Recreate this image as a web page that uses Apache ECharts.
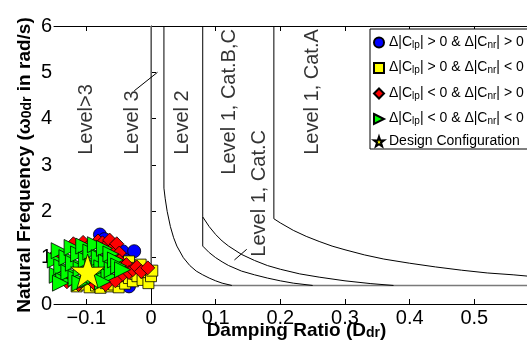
<!DOCTYPE html>
<html>
<head>
<meta charset="utf-8">
<script src="https://cdn.jsdelivr.net/npm/echarts@6/dist/echarts.min.js"></script>
<style>
  html, body { margin: 0; padding: 0; background: #fff; }
  #chart { width: 527px; height: 347px; }
</style>
</head>
<body>
<div id="chart"></div>
<script>
const FONT = "'Liberation Sans', Arial, Helvetica, sans-serif";

// axis ticks
const xTicks = [-0.1, 0, 0.1, 0.2, 0.3, 0.4, 0.5];
const yTicks = [0, 1, 2, 3, 4, 5, 6];

// flying-quality boundaries [damping ratio, natural frequency]
const level3Bound = [[0, 6], [0, 0.4], [0.6, 0.4]];
const level2Bound = [[0.02, 6], [0.02, 2.5], [0.022, 2.27], [0.025, 2.0], [0.03, 1.67], [0.035, 1.43], [0.04, 1.25],
  [0.05, 1.0], [0.06, 0.83], [0.07, 0.71], [0.08, 0.63], [0.09, 0.56], [0.1, 0.5], [0.11, 0.45], [0.125, 0.4]];
const level1BCBound = [[0.08, 6], [0.08, 1.88], [0.09, 1.67], [0.1, 1.5], [0.11, 1.36], [0.12, 1.25], [0.14, 1.07],
  [0.16, 0.94], [0.18, 0.83], [0.2, 0.75], [0.23, 0.65], [0.26, 0.58], [0.3, 0.5], [0.34, 0.44], [0.375, 0.4]];
const level1CBound = [[0.08, 1.88], [0.08, 1.25], [0.09, 1.11], [0.1, 1.0], [0.11, 0.91], [0.12, 0.83], [0.14, 0.71],
  [0.16, 0.63], [0.18, 0.56], [0.2, 0.5], [0.22, 0.45], [0.25, 0.4]];
const level1ABound = [[0.19, 6], [0.19, 1.84], [0.2, 1.75], [0.22, 1.59], [0.24, 1.46], [0.26, 1.35], [0.28, 1.25],
  [0.3, 1.17], [0.33, 1.06], [0.36, 0.97], [0.4, 0.88], [0.44, 0.8], [0.48, 0.73], [0.52, 0.67], [0.56, 0.63], [0.6, 0.58]];
const level3Pointer = [[-0.026, 4.6], [0.01, 5.0]];
const level1CPointer = [[0.129, 0.95], [0.148, 1.18]];

// region labels [text, x, y(start of text)]
const regionLabels = [
  ['Level>3', -0.1, 3.22],
  ['Level 3', -0.029, 3.22],
  ['Level 2', 0.049, 3.22],
  ['Level 1, Cat.B,C', 0.121, 2.79],
  ['Level 1, Cat.C', 0.168, 1.02],
  ['Level 1, Cat.A', 0.25, 3.22]
];

// scatter data
const ppData = [[-0.079, 1.5], [-0.072, 1.4], [-0.06, 1.25], [-0.044, 1.14], [-0.026, 1.14], [-0.05, 1.02],
  [-0.034, 0.38], [-0.04, 0.95], [-0.065, 1.1]];
const pnData = [[-0.115, 0.38], [-0.105, 0.42], [-0.095, 0.36], [-0.085, 0.4], [-0.078, 0.35], [-0.07, 0.45],
  [-0.063, 0.38], [-0.057, 0.42], [-0.05, 0.36], [-0.045, 0.5], [-0.04, 0.44], [-0.034, 0.92], [-0.034, 0.56],
  [-0.028, 0.49], [-0.024, 0.65], [-0.021, 0.6], [-0.016, 0.85], [-0.013, 0.52], [-0.008, 0.68], [-0.004, 0.45],
  [0.0, 0.6], [0.002, 0.72], [-0.03, 0.78], [-0.045, 0.7]];
const npData = [[-0.145, 1.1], [-0.13, 0.48], [-0.12, 1.3], [-0.112, 0.42], [-0.105, 1.33], [-0.095, 1.27],
  [-0.088, 0.45], [-0.082, 1.36], [-0.075, 1.32], [-0.068, 1.28], [-0.064, 1.38], [-0.058, 1.22], [-0.053, 1.3],
  [-0.049, 1.1], [-0.049, 0.93], [-0.045, 0.62], [-0.038, 0.85], [-0.034, 0.68], [-0.028, 0.74], [-0.022, 0.8],
  [-0.015, 0.7], [-0.005, 0.78], [-0.07, 0.42], [-0.055, 0.5]];
const nnData = [[-0.148, 0.95], [-0.145, 0.62], [-0.142, 1.15], [-0.138, 0.8], [-0.135, 0.5], [-0.13, 1.0],
  [-0.127, 0.68], [-0.122, 1.22], [-0.12, 0.88], [-0.116, 0.55], [-0.112, 1.08], [-0.108, 0.75], [-0.104, 1.25],
  [-0.1, 0.95], [-0.097, 0.52], [-0.093, 1.12], [-0.09, 0.82], [-0.086, 1.28], [-0.083, 0.62], [-0.08, 1.0],
  [-0.076, 0.78], [-0.072, 1.2], [-0.069, 0.9], [-0.065, 0.6], [-0.062, 1.08], [-0.06, 0.74], [-0.055, 0.95],
  [-0.05, 0.82], [-0.044, 0.74], [-0.14, 0.45], [-0.11, 0.45], [-0.075, 0.48]];
const designData = [[-0.098, 0.71]];

const legendText = {
  pp: '{m|\u0394|C}{s|lp}{m|| > 0 & \u0394|C}{s|nr}{m|| > 0}',
  pn: '{m|\u0394|C}{s|lp}{m|| > 0 & \u0394|C}{s|nr}{m|| < 0}',
  np: '{m|\u0394|C}{s|lp}{m|| < 0 & \u0394|C}{s|nr}{m|| > 0}',
  nn: '{m|\u0394|C}{s|lp}{m|| < 0 & \u0394|C}{s|nr}{m|| < 0}',
  design: '{m|Design Configuration}'
};

const STAR = 'path://M50,0 L61.8,35.1 L97.6,34.5 L68.8,56.2 L79.4,90.5 L50,70 L20.6,90.5 L31.2,56.2 L2.4,34.5 L38.2,35.1 Z';
const TRI_RIGHT = 'path://M0,0 L10,5 L0,10 Z';

const fmtTick = v => (v < 0 ? '\u2212' + (-v) : String(v));

function boundary(data, color, width) {
  return {
    type: 'line', data: data, symbol: 'none', silent: true, z: 1,
    lineStyle: { color: color || '#000', width: width || 1 }
  };
}

function markers(name, data, symbol, size, color) {
  return {
    name: name, type: 'scatter', data: data, symbol: symbol, symbolSize: size, z: 3,
    itemStyle: { color: color, borderColor: '#000', borderWidth: 0.8, opacity: 1 }
  };
}

const nameRich = {
  m: { fontFamily: FONT, fontSize: 19, fontWeight: 'bold', lineHeight: 19, verticalAlign: 'top', color: '#000' },
  s: { fontFamily: FONT, fontSize: 14, fontWeight: 'bold', lineHeight: 14, padding: [10, 0, 0, 0], verticalAlign: 'bottom', color: '#000' }
};

const chart = echarts.init(document.getElementById('chart'));

chart.setOption({
  animation: false,
  backgroundColor: '#fff',
  textStyle: { fontFamily: FONT },
  grid: { left: 54, top: 26, right: -12, bottom: 43, outerBoundsMode: 'none' },
  legend: {
    orient: 'vertical',
    left: 370, top: 29,
    padding: [3, 6, 1, 3],
    itemGap: 7.5, itemWidth: 10, itemHeight: 10,
    borderColor: '#000', borderWidth: 1, backgroundColor: '#fff',
    data: ['pp', 'pn', 'np', 'nn', 'design'],
    formatter: name => legendText[name],
    textStyle: {
      fontFamily: FONT, fontSize: 14, color: '#000',
      rich: {
        m: { fontFamily: FONT, fontSize: 14, lineHeight: 15, verticalAlign: 'top', color: '#000' },
        s: { fontFamily: FONT, fontSize: 10, lineHeight: 10, padding: [8, 0, 0, 0], verticalAlign: 'bottom', color: '#000' }
      }
    }
  },
  xAxis: [{
    type: 'value', min: -0.15, max: 0.6, position: 'bottom',
    name: '{m|Damping Ratio (D}{s|dr}{m|)}',
    nameLocation: 'middle', nameGap: 17, nameMoveOverlap: false,
    nameTextStyle: { rich: nameRich },
    axisLine: { show: true, lineStyle: { color: '#000', width: 1 } },
    axisTick: { show: true, inside: true, length: 5, customValues: xTicks, lineStyle: { color: '#000' } },
    axisLabel: { customValues: xTicks, formatter: fmtTick, fontSize: 20, color: '#000', margin: 4, fontFamily: FONT },
    splitLine: { show: false }
  }, {
    type: 'value', min: -0.15, max: 0.6, position: 'top',
    axisLine: { show: true, lineStyle: { color: '#000', width: 1 } },
    axisTick: { show: true, inside: true, length: 5, customValues: xTicks, lineStyle: { color: '#000' } },
    axisLabel: { show: false },
    splitLine: { show: false }
  }],
  yAxis: {
    type: 'value', min: 0, max: 6, interval: 1,
    name: '{m|Natural Frequency (\u03c9}{s|0dr}{m| in rad/s)}',
    nameLocation: 'middle', nameGap: 20, nameRotate: 90, nameMoveOverlap: false,
    nameTextStyle: { rich: nameRich },
    axisLine: { show: true, lineStyle: { color: '#000', width: 1 } },
    axisTick: { show: true, inside: true, length: 5, lineStyle: { color: '#000' } },
    axisLabel: { fontSize: 20, color: '#000', margin: 2, fontFamily: FONT, formatter: v => String(yTicks[v] !== undefined ? yTicks[v] : v) },
    splitLine: { show: false }
  },
  series: [
    boundary(level3Bound, '#7a7a7a', 1.5),
    boundary(level2Bound),
    boundary(level1BCBound),
    boundary(level1CBound),
    boundary(level1ABound),
    boundary(level3Pointer),
    boundary(level1CPointer),
    {
      type: 'scatter', silent: true, symbolSize: 0, z: 2,
      data: regionLabels.map(r => [r[1], r[2], r[0]]),
      label: {
        show: true, position: 'inside', rotate: 90, align: 'left', verticalAlign: 'middle',
        formatter: p => p.data[2], fontSize: 20, color: '#000', fontFamily: FONT
      }
    },
    markers('pp', ppData, 'circle', 13, '#0000ff'),
    markers('pn', pnData, 'rect', 11, '#ffff00'),
    markers('np', npData, 'diamond', 14, '#ff0000'),
    markers('nn', nnData, TRI_RIGHT, 16, '#00ff00'),
    Object.assign(markers('design', designData, STAR, 34, '#ffff00'), { z: 4 })
  ]
});
</script>
</body>
</html>
